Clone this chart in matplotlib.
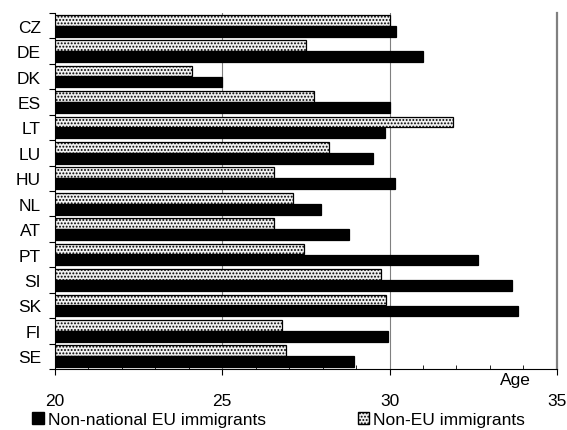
"""

Median age of immigrants by country, EU vs non-EU.

"""

import matplotlib
matplotlib.use('Agg')
import matplotlib.pyplot as plt
from matplotlib.patches import Patch
import numpy as np

countries = ['CZ', 'DE', 'DK', 'ES', 'LT', 'LU', 'HU', 'NL', 'AT', 'PT',
             'SI', 'SK', 'FI', 'SE']
eu_age = [30.2, 31.0, 25.0, 30.0, 29.85, 29.5, 30.15, 27.95, 28.8, 32.65,
          33.65, 33.85, 29.95, 28.95]
non_eu_age = [30.0, 27.5, 24.1, 27.75, 31.9, 28.2, 26.55, 27.1, 26.55, 27.45,
              29.75, 29.9, 26.8, 26.9]
x_ticks = [20, 25, 30, 35]

plt.rcParams['font.family'] = ['Liberation Sans', 'DejaVu Sans']
plt.rcParams['hatch.color'] = '#333333'
plt.rcParams['hatch.linewidth'] = 0.9

fig = plt.figure(figsize=(5.67, 4.31), dpi=100)
ax = fig.add_axes([0.097, 0.1415, 0.885, 0.826])

y = np.arange(len(countries))
h = 0.42
ax.barh(y - 0.215, [v - 20 for v in non_eu_age], left=20, height=h,
        color='#f0f0f0', edgecolor='black', linewidth=0.9, hatch='.....',
        zorder=3)
ax.barh(y + 0.215, [v - 20 for v in eu_age], left=20, height=h,
        color='black', edgecolor='black', linewidth=0.9, zorder=3)

ax.set_xlim(20, 35)
ax.set_ylim(len(countries) - 0.5, -0.5)

# gridlines
for v in x_ticks[1:-1]:
    ax.axvline(v, color='#808080', lw=0.8, zorder=1)

ax.set_xticks(x_ticks)
ax.set_xticks(np.arange(20, 36, 1), minor=True)
ax.tick_params(axis='x', which='major', direction='out', length=4,
               pad=13, labelsize=12.5)
ax.tick_params(axis='x', which='minor', direction='in', length=3)

ax.set_yticks(np.arange(-0.5, len(countries), 1))
ax.set_yticklabels([])
ax.set_yticks(y, minor=True)
ax.set_yticklabels(countries, minor=True)
ax.tick_params(axis='y', which='major', direction='out', length=4)
ax.tick_params(axis='y', which='minor', length=0, pad=10, labelsize=12.5)

ax.spines['top'].set_visible(False)
ax.spines['right'].set_color('#808080')
ax.spines['right'].set_linewidth(1.6)

ax.text(0.917, -0.03, 'Age', transform=ax.transAxes, ha='center',
        va='center', fontsize=12.5)

handles = [Patch(facecolor='black', edgecolor='black',
                 label='Non-national EU immigrants'),
           Patch(facecolor='#f0f0f0', edgecolor='black', hatch='.....',
                 label='Non-EU immigrants')]
fig.legend(handles=handles, loc='center left',
           bbox_to_anchor=(32 / 567, 0.024), ncol=2, frameon=False,
           fontsize=12.5, handlelength=0.68, handleheight=0.68,
           handletextpad=0.22, columnspacing=5.3, borderpad=0,
           borderaxespad=0)

fig.savefig('out.png', dpi=100)
